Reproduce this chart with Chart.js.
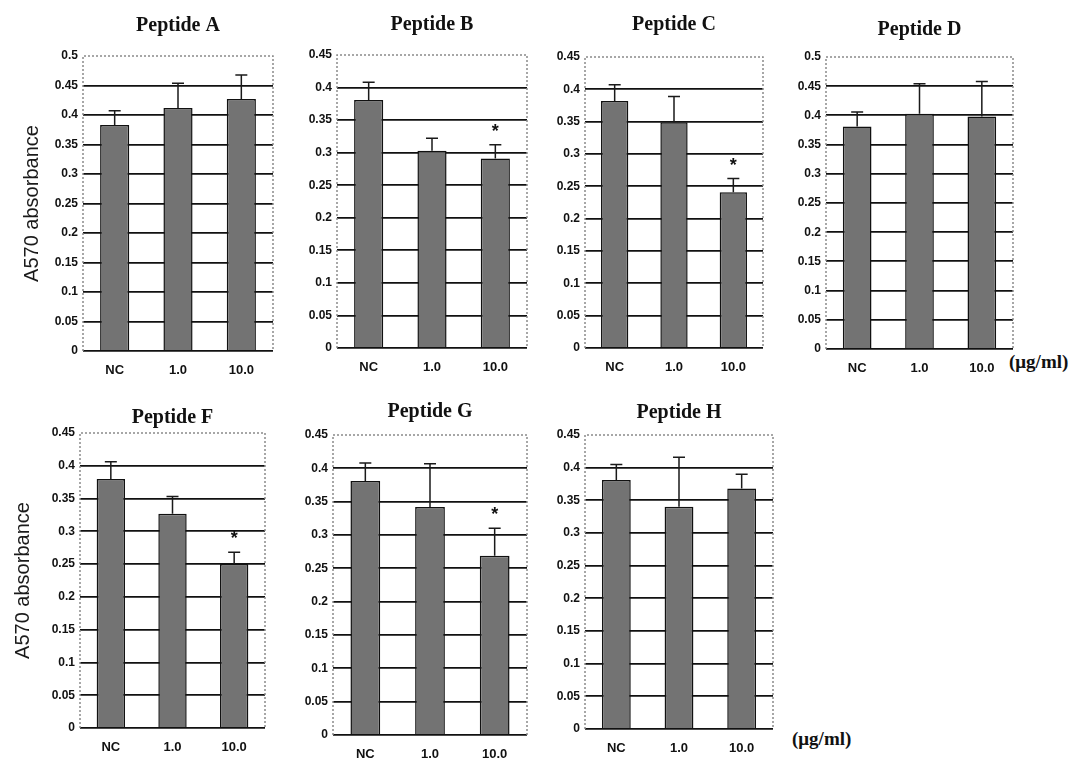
<!DOCTYPE html>
<html>
<head>
<meta charset="utf-8">
<script src="https://cdn.jsdelivr.net/npm/chart.js@4"></script>
<style>
  body { margin: 0; background: #fff; width: 1086px; height: 758px; overflow: hidden; position: relative; }
  canvas { position: absolute; }
  .unit { position: absolute; font: bold 19px "Liberation Serif", serif; color: #111; }
</style>
</head>
<body>
<span class="unit" style="left:1009px;top:351px">(μg/ml)</span>
<span class="unit" style="left:792px;top:728px">(μg/ml)</span>
<script>
// values (A570 absorbance, mean + upper SD)
const categories = ["NC", "1.0", "10.0"];

const peptideA = [0.383, 0.412, 0.427];
const sdA = [0.024, 0.042, 0.041];
const peptideB = [0.381, 0.303, 0.291];
const sdB = [0.027, 0.019, 0.021];
const peptideC = [0.382, 0.349, 0.241];
const sdC = [0.025, 0.040, 0.021];
const peptideD = [0.381, 0.403, 0.398];
const sdD = [0.025, 0.051, 0.060];
const peptideF = [0.380, 0.327, 0.250];
const sdF = [0.026, 0.026, 0.018];
const peptideG = [0.381, 0.342, 0.269];
const sdG = [0.027, 0.065, 0.041];
const peptideH = [0.381, 0.340, 0.368];
const sdH = [0.024, 0.076, 0.022];

// * = significant vs NC
const sigNone = [false, false, false];
const sigHigh = [false, false, true];

const XH = 26; // x axis band height

// layout: plot rectangle [left, top, right, bottom], title gap, y axis band width
const panels = [
  { title: "Peptide A", mean: peptideA, sd: sdA, sig: sigNone, max: 0.5, box: [83, 56, 273, 351], pad: 20, yw: 83, yTitlePad: 20 },
  { title: "Peptide B", mean: peptideB, sd: sdB, sig: sigHigh, max: 0.45, box: [337, 55, 527, 348], pad: 20, yw: 50 },
  { title: "Peptide C", mean: peptideC, sd: sdC, sig: sigHigh, max: 0.45, box: [585, 57, 763, 348], pad: 22, yw: 50 },
  { title: "Peptide D", mean: peptideD, sd: sdD, sig: sigNone, max: 0.5, box: [826, 57, 1013, 349], pad: 17, yw: 50 },
  { title: "Peptide F", mean: peptideF, sd: sdF, sig: sigHigh, max: 0.45, box: [80, 433, 265, 728], pad: 5, yw: 80, yTitlePad: 11 },
  { title: "Peptide G", mean: peptideG, sd: sdG, sig: sigHigh, max: 0.45, box: [333, 435, 527, 735], pad: 13, yw: 50 },
  { title: "Peptide H", mean: peptideH, sd: sdH, sig: sigNone, max: 0.45, box: [585, 435, 773, 729], pad: 12, yw: 50 }
];

// dotted grey frame round the plot area
const framePlugin = {
  id: "frame",
  beforeDatasetsDraw(chart) {
    const { ctx, chartArea: a } = chart;
    ctx.save();
    ctx.strokeStyle = "#8a8a8a";
    ctx.lineWidth = 1.5;
    ctx.setLineDash([2, 2]);
    ctx.beginPath();
    ctx.moveTo(a.left, a.bottom);
    ctx.lineTo(a.left, a.top);
    ctx.lineTo(a.right, a.top);
    ctx.lineTo(a.right, a.bottom);
    ctx.stroke();
    ctx.restore();
  }
};

// upper error whiskers and significance stars
const errorPlugin = {
  id: "errorBars",
  afterDatasetsDraw(chart, args, opts) {
    const { ctx, scales: { y } } = chart;
    const meta = chart.getDatasetMeta(0);
    ctx.save();
    ctx.strokeStyle = "#1a1a1a";
    ctx.lineWidth = 1.5;
    meta.data.forEach((bar, i) => {
      const yb = y.getPixelForValue(opts.mean[i]);
      const yt = y.getPixelForValue(opts.mean[i] + opts.sd[i]);
      ctx.beginPath();
      ctx.moveTo(bar.x, yb);
      ctx.lineTo(bar.x, yt);
      ctx.moveTo(bar.x - 6, yt);
      ctx.lineTo(bar.x + 6, yt);
      ctx.stroke();
      if (opts.sig[i]) {
        ctx.fillStyle = "#111";
        ctx.font = "bold 18px 'Liberation Sans', sans-serif";
        ctx.textAlign = "center";
        ctx.textBaseline = "top";
        ctx.fillText("*", bar.x, yt - 22);
      }
    });
    ctx.restore();
  }
};

panels.forEach(p => {
  const [l, t, r, b] = p.box;
  const left = l - p.yw;
  const top = t - 20 - p.pad;
  const canvas = document.createElement("canvas");
  canvas.width = r - left + 2;
  canvas.height = b - top + XH;
  canvas.style.left = left + "px";
  canvas.style.top = top + "px";
  document.body.appendChild(canvas);

  new Chart(canvas, {
    type: "bar",
    data: {
      labels: categories,
      datasets: [{
        data: p.mean,
        backgroundColor: "#737373",
        borderColor: "#111",
        borderWidth: 1.5,
        barPercentage: 0.46,
        categoryPercentage: 1
      }]
    },
    options: {
      responsive: false,
      animation: false,
      layout: { padding: { right: 2 } },
      plugins: {
        legend: { display: false },
        tooltip: { enabled: false },
        title: {
          display: true,
          text: p.title,
          fullSize: false,
          color: "#111",
          font: { family: "'Liberation Serif', serif", size: 20, weight: "bold", lineHeight: "20px" },
          padding: { top: 0, bottom: p.pad }
        },
        errorBars: { mean: p.mean, sd: p.sd, sig: p.sig }
      },
      scales: {
        x: {
          grid: { display: false },
          border: { display: false },
          ticks: { color: "#111", padding: 4, font: { family: "'Liberation Sans', sans-serif", size: 13, weight: "bold" } },
          afterFit(s) { s.height = XH; }
        },
        y: {
          min: 0,
          max: p.max,
          border: { display: false },
          grid: {
            drawTicks: false,
            lineWidth: 1.8,
            color: ctx => (ctx.tick && ctx.tick.value >= p.max - 1e-9) ? "rgba(0,0,0,0)" : "#111"
          },
          ticks: {
            stepSize: 0.05,
            padding: 5,
            color: "#111",
            font: { family: "'Liberation Sans', sans-serif", size: 12, weight: "bold" },
            callback: v => String(Number(v.toFixed(2)))
          },
          title: {
            display: p.yTitlePad !== undefined,
            text: "A570 absorbance",
            color: "#1a1a1a",
            font: { family: "'Liberation Sans', sans-serif", size: 20 },
            padding: { top: p.yTitlePad || 0, bottom: 0 }
          },
          afterFit(s) { s.width = p.yw; }
        }
      }
    },
    plugins: [framePlugin, errorPlugin]
  });
});
</script>
</body>
</html>
